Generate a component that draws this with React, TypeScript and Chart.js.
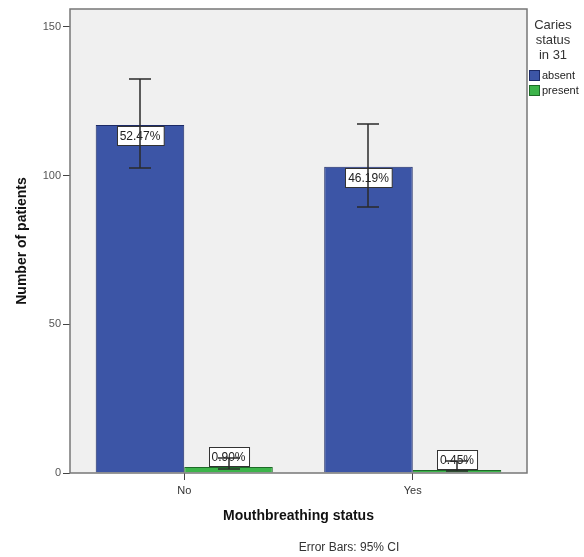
import React, { useEffect, useRef } from "react";
import { Chart, registerables } from "chart.js";

Chart.register(...registerables);

const categories = ["No", "Yes"];
const seriesNames = ["absent", "present"];
const absentValues = [117, 103];
const presentValues = [2, 1];
const absentErrLow = [102.5, 89.5];
const absentErrHigh = [132.5, 117.5];
const presentErrLow = [1.2, 0.6];
const presentErrHigh = [5, 4];
const absentLabels = ["52.47%", "46.19%"];
const presentLabels = ["0.90%", "0.45%"];
const yTicks = [0, 50, 100, 150];

const FONT = "'Liberation Sans', Arial, sans-serif";

export default function App() {
  const ref = useRef<HTMLCanvasElement | null>(null);

  useEffect(() => {
    document.body.style.margin = "0";
    const canvas = ref.current;
    if (!canvas) return;

    const errLow = [absentErrLow, presentErrLow];
    const errHigh = [absentErrHigh, presentErrHigh];
    const labels = [absentLabels, presentLabels];

    const customPlugin = {
      id: "spssDecor",
      beforeDraw(chart: any) {
        const { ctx, chartArea: a } = chart;
        ctx.save();
        ctx.fillStyle = "#ffffff";
        ctx.fillRect(0, 0, chart.width, chart.height);
        ctx.fillStyle = "#f0f0f0";
        ctx.fillRect(a.left, a.top, a.right - a.left, a.bottom - a.top);
        ctx.restore();
      },
      afterDatasetsDraw(chart: any) {
        const { ctx, chartArea: a } = chart;
        const y = chart.scales.y;
        ctx.save();
        ctx.font = `12px ${FONT}`;
        ctx.textAlign = "center";
        ctx.textBaseline = "middle";
        chart.data.datasets.forEach((ds: any, di: number) => {
          const meta = chart.getDatasetMeta(di);
          meta.data.forEach((bar: any, i: number) => {
            const text = labels[di][i];
            const w = ctx.measureText(text).width + 6;
            const h = 19;
            const barH = bar.base - bar.y;
            let top: number;
            if (barH > 30) top = bar.y + 1;
            else top = bar.y - h - 1;
            const left = Math.round(bar.x - w / 2) + 0.5;
            top = Math.round(top) + 0.5;
            ctx.fillStyle = "#ffffff";
            ctx.fillRect(left, top, w, h);
            ctx.strokeStyle = "#333333";
            ctx.lineWidth = 1;
            ctx.strokeRect(left, top, w, h);
            ctx.fillStyle = "#222222";
            ctx.fillText(text, bar.x, top + h / 2 + 0.5);
          });
        });
        ctx.strokeStyle = "#2a2a2a";
        ctx.lineWidth = 1.5;
        chart.data.datasets.forEach((ds: any, di: number) => {
          const meta = chart.getDatasetMeta(di);
          meta.data.forEach((bar: any, i: number) => {
            const x = Math.round(bar.x);
            const yl = Math.round(y.getPixelForValue(errLow[di][i]));
            const yh = Math.round(y.getPixelForValue(errHigh[di][i]));
            ctx.beginPath();
            ctx.moveTo(x, yl);
            ctx.lineTo(x, yh);
            ctx.moveTo(x - 11, yl);
            ctx.lineTo(x + 11, yl);
            ctx.moveTo(x - 11, yh);
            ctx.lineTo(x + 11, yh);
            ctx.stroke();
          });
        });
        ctx.strokeStyle = "#777777";
        ctx.lineWidth = 1.5;
        ctx.strokeRect(a.left, a.top, a.right - a.left, a.bottom - a.top);
        ctx.restore();
      },
      afterDraw(chart: any) {
        const { ctx, chartArea: a } = chart;
        ctx.save();
        ctx.fillStyle = "#111111";
        ctx.font = `bold 14px ${FONT}`;
        ctx.textAlign = "center";
        ctx.textBaseline = "middle";
        ctx.save();
        ctx.translate(22, (a.top + a.bottom) / 2);
        ctx.rotate(-Math.PI / 2);
        ctx.fillText("Number of patients", 0, 0);
        ctx.restore();
        ctx.fillText("Mouthbreathing status", (a.left + a.right) / 2, 516);
        ctx.font = `12px ${FONT}`;
        ctx.fillStyle = "#333333";
        ctx.fillText("Error Bars: 95% CI", 349, 548);
        ctx.font = `13px ${FONT}`;
        ctx.fillStyle = "#333333";
        const lx = 553;
        ctx.fillText("Caries", lx, 25);
        ctx.fillText("status", lx, 40);
        ctx.fillText("in 31", lx, 55);
        const colors = ["#3c55a6", "#3cb44a"];
        const borders = ["#1c2a66", "#1d6b27"];
        ctx.font = `11px ${FONT}`;
        ctx.textAlign = "left";
        seriesNames.forEach((n, i) => {
          const by = 70 + i * 15;
          ctx.fillStyle = colors[i];
          ctx.fillRect(529, by, 11, 11);
          ctx.strokeStyle = borders[i];
          ctx.lineWidth = 1;
          ctx.strokeRect(529.5, by + 0.5, 10, 10);
          ctx.fillStyle = "#222222";
          ctx.fillText(n, 542, by + 6);
        });
        ctx.restore();
      },
    };

    const chart = new Chart(canvas, {
      type: "bar",
      data: {
        labels: categories,
        datasets: [
          {
            label: seriesNames[0],
            data: absentValues,
            backgroundColor: "#3c55a6",
            borderColor: "#1c2a66",
            borderWidth: 1,
            categoryPercentage: 0.775,
            barPercentage: 1,
          },
          {
            label: seriesNames[1],
            data: presentValues,
            backgroundColor: "#3cb44a",
            borderColor: "#1d6b27",
            borderWidth: 1,
            categoryPercentage: 0.775,
            barPercentage: 1,
          },
        ],
      },
      options: {
        animation: false,
        responsive: false,
        devicePixelRatio: 1,
        layout: { padding: { top: 9, right: 57, left: 0, bottom: 0 } },
        plugins: {
          legend: { display: false },
          tooltip: { enabled: false },
          title: { display: false },
        },
        scales: {
          x: {
            grid: {
              display: true,
              drawOnChartArea: false,
              drawTicks: true,
              tickLength: 7,
              color: "#444444",
              offset: false,
            },
            border: { display: false },
            ticks: {
              font: { family: FONT, size: 11 },
              color: "#333333",
              padding: 4,
            },
            afterFit(scale: any) {
              scale.height = 84;
            },
          },
          y: {
            min: 0,
            max: 156,
            afterBuildTicks(scale: any) {
              scale.ticks = yTicks.map((v) => ({ value: v }));
            },
            grid: {
              display: true,
              drawOnChartArea: false,
              drawTicks: true,
              tickLength: 7,
              color: "#444444",
            },
            border: { display: false },
            ticks: {
              font: { family: FONT, size: 11 },
              color: "#555555",
              padding: 2,
            },
            afterFit(scale: any) {
              scale.width = 70;
            },
          },
        },
      },
      plugins: [customPlugin],
    });

    return () => chart.destroy();
  }, []);

  return <canvas ref={ref} width={584} height={557} style={{ display: "block" }} />;
}
